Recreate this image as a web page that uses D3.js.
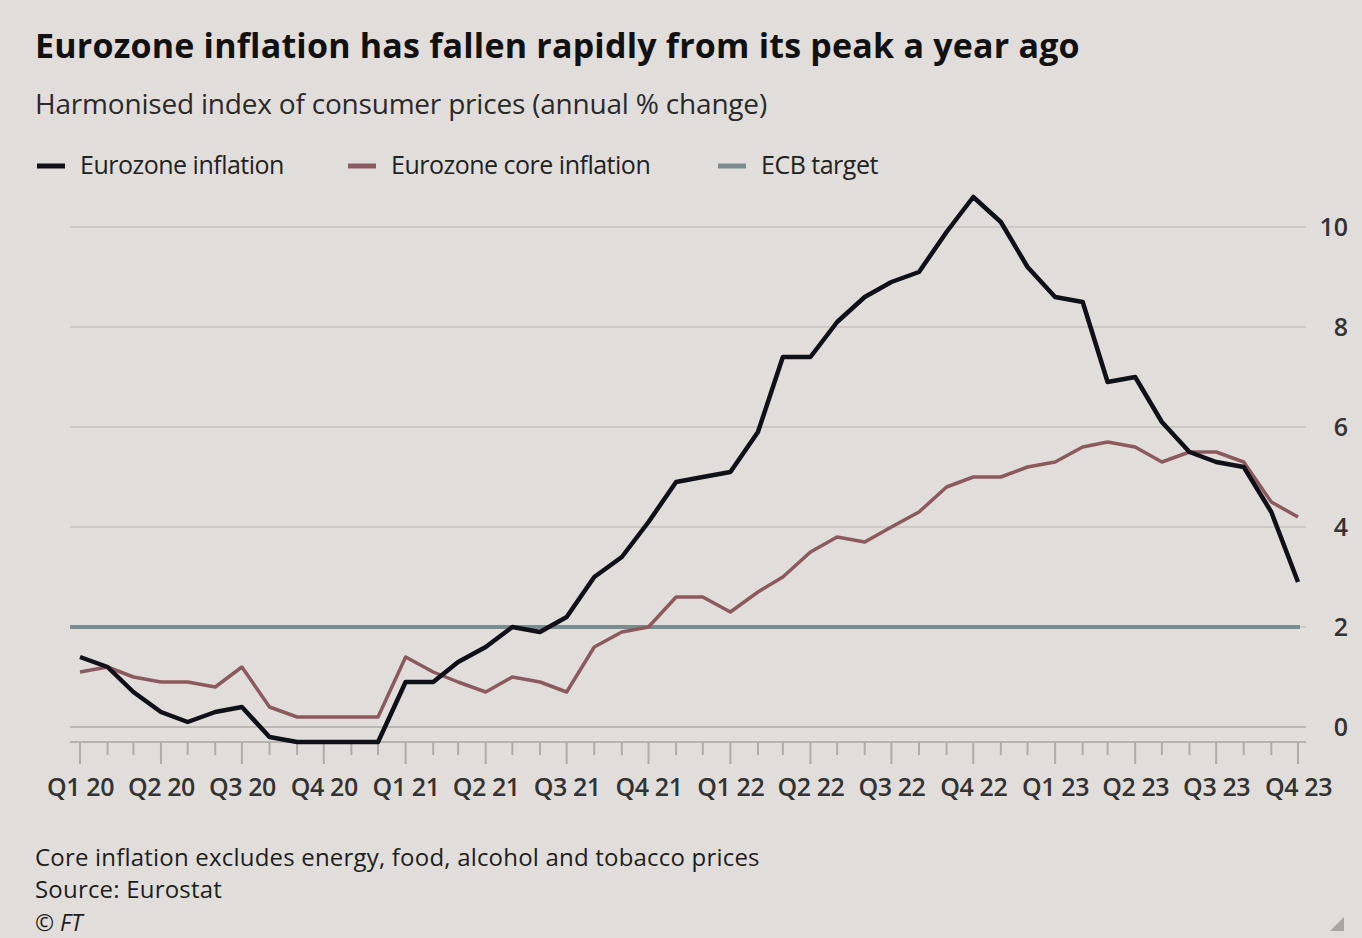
<!DOCTYPE html>
<html>
<head>
<meta charset="utf-8">
<script src="https://cdn.jsdelivr.net/npm/d3@7"></script>
<style>
  html, body { margin: 0; padding: 0; background: #e1ddda; }
  svg { display: block; }
  text { font-family: "Open Sans", "Noto Sans", sans-serif; }
</style>
</head>
<body>
<svg id="chart" width="1362" height="938"></svg>
<script>
// Monthly observations, Jan 2020 – Oct 2023 (annual % change)
const months = d3.range(46).map(i => new Date(2020, i, 1));

const headline = [
  1.4, 1.2, 0.7, 0.3, 0.1, 0.3, 0.4, -0.2, -0.3, -0.3, -0.3, -0.3,
  0.9, 0.9, 1.3, 1.6, 2.0, 1.9, 2.2, 3.0, 3.4, 4.1, 4.9, 5.0,
  5.1, 5.9, 7.4, 7.4, 8.1, 8.6, 8.9, 9.1, 9.9, 10.6, 10.1, 9.2,
  8.6, 8.5, 6.9, 7.0, 6.1, 5.5, 5.3, 5.2, 4.3, 2.9
];

const core = [
  1.1, 1.2, 1.0, 0.9, 0.9, 0.8, 1.2, 0.4, 0.2, 0.2, 0.2, 0.2,
  1.4, 1.1, 0.9, 0.7, 1.0, 0.9, 0.7, 1.6, 1.9, 2.0, 2.6, 2.6,
  2.3, 2.7, 3.0, 3.5, 3.8, 3.7, 4.0, 4.3, 4.8, 5.0, 5.0, 5.2,
  5.3, 5.6, 5.7, 5.6, 5.3, 5.5, 5.5, 5.3, 4.5, 4.2
];

const ecbTarget = 2;

const quarterLabels = [
  "Q1 20", "Q2 20", "Q3 20", "Q4 20",
  "Q1 21", "Q2 21", "Q3 21", "Q4 21",
  "Q1 22", "Q2 22", "Q3 22", "Q4 22",
  "Q1 23", "Q2 23", "Q3 23", "Q4 23"
];

const yTicks = [0, 2, 4, 6, 8, 10];

const seriesNames = ["Eurozone inflation", "Eurozone core inflation", "ECB target"];
const seriesColors = ["#0f1018", "#8b5a5e", "#7a8c90"];

const svg = d3.select("#chart");

svg.append("rect").attr("width", 1362).attr("height", 938).attr("fill", "#e1ddda");

// Scales
const x = d3.scaleTime()
  .domain([months[0], months[months.length - 1]])
  .range([80, 1298]);
const y = d3.scaleLinear().domain([0, 10]).range([727, 227]);

const gridLeft = 70, gridRight = 1306;

// Titles
svg.append("text").attr("x", 35).attr("y", 58)
  .attr("font-size", 34).attr("font-weight", 700).attr("fill", "#111")
  .attr("letter-spacing", 0.2)
  .text("Eurozone inflation has fallen rapidly from its peak a year ago");
svg.append("text").attr("x", 35).attr("y", 114)
  .attr("font-size", 28).attr("font-weight", 500).attr("fill", "#2a2a2a")
  .attr("letter-spacing", -0.2)
  .text("Harmonised index of consumer prices (annual % change)");

// Legend
const legendX = [37, 348, 718];
const legend = svg.append("g");
seriesNames.forEach((name, i) => {
  legend.append("line")
    .attr("x1", legendX[i]).attr("x2", legendX[i] + 28)
    .attr("y1", 166).attr("y2", 166)
    .attr("stroke", seriesColors[i]).attr("stroke-width", 5);
  legend.append("text")
    .attr("x", legendX[i] + 43).attr("y", 174)
    .attr("font-size", 25).attr("font-weight", 500).attr("fill", "#222")
    .attr("letter-spacing", -0.5)
    .text(name);
});

// Horizontal gridlines
svg.append("g").selectAll("line").data(yTicks).join("line")
  .attr("x1", gridLeft).attr("x2", gridRight)
  .attr("y1", d => y(d)).attr("y2", d => y(d))
  .attr("stroke", d => d === 0 ? "#bdb8b3" : "#cdc8c3")
  .attr("stroke-width", 2);

// Right-hand value labels
const yAxis = d3.axisRight(y).tickValues(yTicks).tickSize(0).tickPadding(0);
svg.append("g")
  .attr("transform", "translate(1348,0)")
  .call(yAxis)
  .call(g => g.select(".domain").remove())
  .call(g => g.selectAll("text")
    .attr("text-anchor", "end")
    .attr("font-size", 25)
    .attr("font-weight", 600)
    .attr("fill", "#333")
    .attr("font-family", "'Open Sans', sans-serif"));

// Bottom axis: monthly ticks, longer at each quarter
const axisY = 742;
const axisG = svg.append("g").attr("transform", `translate(0,${axisY})`);
axisG.append("line")
  .attr("x1", gridLeft).attr("x2", gridRight)
  .attr("y1", 0).attr("y2", 0)
  .attr("stroke", "#b7b2ad").attr("stroke-width", 2);
axisG.selectAll("line.tick").data(months).join("line")
  .attr("class", "tick")
  .attr("x1", d => x(d)).attr("x2", d => x(d))
  .attr("y1", 0).attr("y2", (d, i) => i % 3 === 0 ? 22 : 13)
  .attr("stroke", "#b0aba6").attr("stroke-width", 2);

const quarterMonths = months.filter((d, i) => i % 3 === 0);
const xAxis = d3.axisBottom(x).tickValues(quarterMonths)
  .tickSize(0).tickPadding(0)
  .tickFormat((d, i) => quarterLabels[i]);
svg.append("g")
  .attr("transform", "translate(0,796)")
  .call(xAxis)
  .call(g => g.select(".domain").remove())
  .call(g => g.selectAll("text")
    .attr("dy", 0)
    .attr("font-size", 25)
    .attr("font-weight", 600)
    .attr("letter-spacing", -0.4)
    .attr("fill", "#333")
    .attr("font-family", "'Open Sans', sans-serif"));

// ECB target
svg.append("line")
  .attr("x1", gridLeft).attr("x2", 1300)
  .attr("y1", y(ecbTarget)).attr("y2", y(ecbTarget))
  .attr("stroke", seriesColors[2]).attr("stroke-width", 4);

const line = d3.line().x((d, i) => x(months[i])).y(d => y(d));

// Core inflation
svg.append("path").datum(core)
  .attr("d", line)
  .attr("fill", "none")
  .attr("stroke", seriesColors[1]).attr("stroke-width", 3.5)
  .attr("stroke-linejoin", "round");

// Headline inflation
svg.append("path").datum(headline)
  .attr("d", line)
  .attr("fill", "none")
  .attr("stroke", seriesColors[0]).attr("stroke-width", 4.5)
  .attr("stroke-linejoin", "round");

// Footnotes
const notes = svg.append("g").attr("font-size", 24).attr("font-weight", 500).attr("fill", "#1e1e1e");
notes.append("text").attr("x", 35).attr("y", 866).attr("letter-spacing", 0.2)
  .text("Core inflation excludes energy, food, alcohol and tobacco prices");
notes.append("text").attr("x", 35).attr("y", 898).attr("letter-spacing", 0.2)
  .text("Source: Eurostat");
notes.append("text").attr("x", 35).attr("y", 931).attr("font-style", "italic")
  .attr("font-size", 23)
  .text("© FT");

// Corner mark
svg.append("path")
  .attr("d", "M1344,917 L1344,931 L1330,931 Z")
  .attr("fill", "#a9a5a2");
</script>
</body>
</html>
